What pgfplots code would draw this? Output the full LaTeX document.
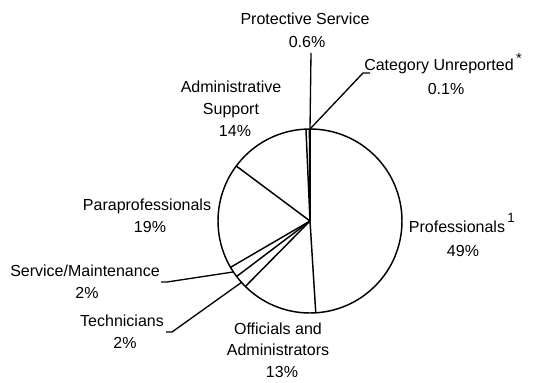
\documentclass[border=0pt]{standalone}
\usepackage{fontspec}
\setmainfont{Liberation Sans}
\usepackage{pgfplots}
\pgfplotsset{compat=1.18}

% slice shares in percent, clockwise from 12 o'clock
\def\shares{49,13.4,2.3,1.9,18.6,14.1,0.6,0.1}

\begin{document}
\fontsize{12}{14}\selectfont
\begin{tikzpicture}[
  lbl/.style={inner sep=0pt, text height=8.6pt, text depth=0pt, font=\fontsize{12}{14}\selectfont},
  pie/.style={line width=1.1pt, black}
]
\begin{axis}[
    scale only axis,
    width=401.25pt, height=286.5pt,
    xmin=0, xmax=535, ymin=0, ymax=382,
    y dir=reverse,
    hide axis,
    clip=false
]
% keep the full canvas in the bounding box
\path (axis cs:0,0) rectangle (axis cs:535,382);
% pie outline and slice boundaries
\draw[pie] (axis cs:310,221) circle[radius=92];
\pgfplotsextra{
  \foreach \p [remember=\e as \s (initially 0), evaluate=\p as \e using \s+\p] in \shares {
    \draw[pie] (axis cs:310,221) -- (axis cs:{310+92*cos(90-3.6*\e)},{221-92*sin(90-3.6*\e)});
  }
}

% leader lines
\draw[line width=1pt] (axis cs:311,53) -- (axis cs:310,129);
\draw[line width=1pt] (axis cs:370,73) -- (axis cs:363,73) -- (axis cs:310,129);
\draw[line width=1pt] (axis cs:161,282) -- (axis cs:167,282) -- (axis cs:233,272);
\draw[line width=1pt] (axis cs:166,332) -- (axis cs:172,332) -- (axis cs:242,282);

% labels
\node[lbl] at (axis cs:305,19) {Protective Service};
\node[lbl] at (axis cs:307,42) {0.6\%};
\node[lbl, anchor=west] at (axis cs:364,65) {Category Unreported};
\node[lbl, font=\fontsize{11}{12}\selectfont] at (axis cs:519,58) {*};
\node[lbl] at (axis cs:446,89) {0.1\%};
\node[lbl] at (axis cs:231,87) {Administrative};
\node[lbl] at (axis cs:231,109) {Support};
\node[lbl] at (axis cs:235,131) {14\%};
\node[lbl] at (axis cs:147,205) {Paraprofessionals};
\node[lbl] at (axis cs:150,227) {19\%};
\node[lbl] at (axis cs:85,271) {Service/Maintenance};
\node[lbl] at (axis cs:87,293) {2\%};
\node[lbl] at (axis cs:122,321) {Technicians};
\node[lbl] at (axis cs:125,343) {2\%};
\node[lbl] at (axis cs:278,329) {Officials and};
\node[lbl] at (axis cs:278,350) {Administrators};
\node[lbl] at (axis cs:282,372) {13\%};
\node[lbl] at (axis cs:457,227) {Professionals};
\node[lbl, font=\fontsize{10}{12}\selectfont] at (axis cs:511,217) {1};
\node[lbl] at (axis cs:463,251) {49\%};
\end{axis}
\end{tikzpicture}
\end{document}
